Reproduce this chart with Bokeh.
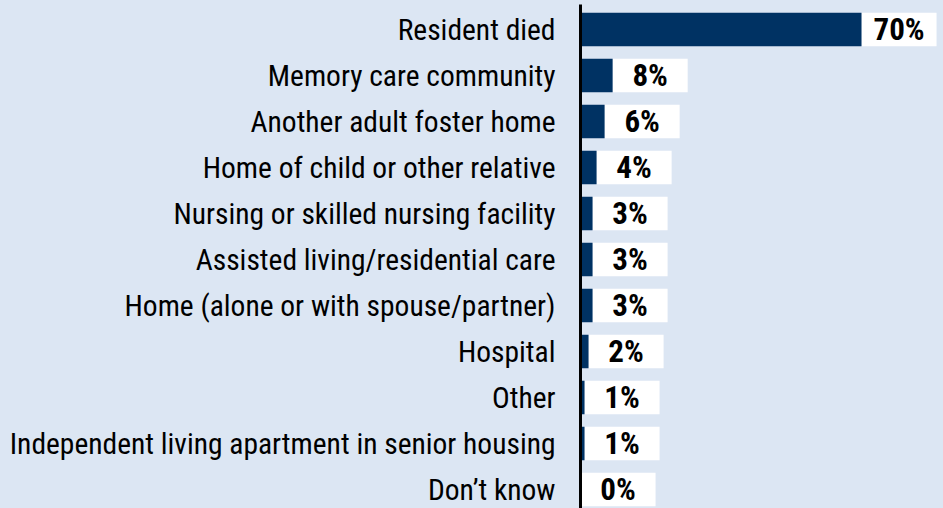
from bokeh.plotting import figure
from bokeh.models import Range1d, FixedTicker, ColumnDataSource
from bokeh.core.properties import value
from bokeh.embed import file_html
from bokeh.resources import INLINE

categories = [
    "Resident died",
    "Memory care community",
    "Another adult foster home",
    "Home of child or other relative",
    "Nursing or skilled nursing facility",
    "Assisted living/residential care",
    "Home (alone or with spouse/partner)",
    "Hospital",
    "Other",
    "Independent living apartment in senior housing",
    "Don\u2019t know",
]
percents = [70, 8, 6, 4, 3, 3, 3, 2, 1, 1, 0]
labels = [f"{v}%" for v in percents]

BG = "#dce6f3"
NAVY = "#003263"
FONT = "Roboto Condensed"
BOX_W = 18.7

pos = list(range(len(categories)))
src = ColumnDataSource(dict(
    y=pos,
    v=percents,
    box_end=[v + BOX_W for v in percents],
    mid=[v + BOX_W / 2 for v in percents],
    lab=labels,
))

p = figure(width=943, height=508, output_backend="svg", toolbar_location=None,
           x_range=Range1d(0, 90.43), y_range=Range1d(10.413, -0.5435),
           min_border_left=580, min_border_right=0, min_border_top=4, min_border_bottom=0)
p.background_fill_color = BG
p.border_fill_color = BG
p.outline_line_color = None
p.xgrid.visible = False
p.ygrid.visible = False
p.xaxis.visible = False

p.hbar(y="y", left="v", right="box_end", height=0.728, source=src,
       fill_color="white", line_color=None)
p.hbar(y="y", left=0, right="v", height=0.728, source=src,
       fill_color=NAVY, line_color=None)
p.text(x="mid", y="y", text="lab", source=src, text_align="center",
       text_baseline="middle", text_font=value(FONT), text_font_size="31px",
       text_font_style="bold", text_color="black")

ya = p.yaxis[0]
ya.ticker = FixedTicker(ticks=pos)
ya.major_label_overrides = {i: c for i, c in zip(pos, categories)}
ya.major_tick_line_color = None
ya.minor_tick_line_color = None
ya.axis_line_color = "black"
ya.axis_line_width = 3
ya.major_label_standoff = 19
ya.major_label_text_font = FONT
ya.major_label_text_font_size = "29.5px"
ya.major_label_text_color = "black"

html = file_html(p, INLINE)
html = html.replace("</head>", f"<style>html,body{{margin:0;padding:0;background:{BG};overflow:hidden;}}</style></head>", 1)
open("out.html", "w").write(html)
